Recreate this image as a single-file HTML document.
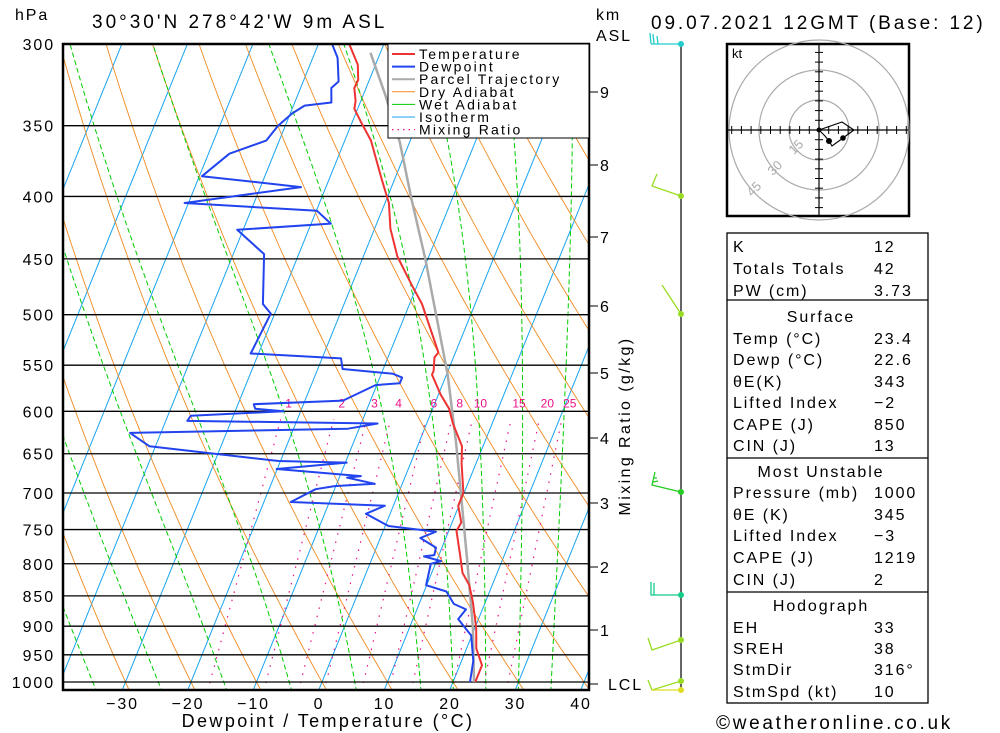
<!DOCTYPE html>
<html><head><meta charset="utf-8"><style>
html,body{margin:0;padding:0;background:#fff;}
svg{display:block;font-family:"Liberation Sans",sans-serif;}
.t{font-size:16px;letter-spacing:1.9px;fill:#000;}
</style></head><body>
<svg id="c" width="1000" height="733" viewBox="0 0 1000 733" xmlns="http://www.w3.org/2000/svg">
<defs><clipPath id="pc"><rect x="63" y="44" width="526" height="646"/></clipPath></defs>
<g id="grid" clip-path="url(#pc)"></g>
<g id="series" clip-path="url(#pc)"></g>
<rect x="63" y="44" width="526" height="646" fill="none" stroke="#000" stroke-width="2.5"/>
<g id="axes"></g>
<text x="15" y="20" class="t">hPa</text>
<text x="92" y="28" style="font-size:19px;letter-spacing:3px">30°30'N 278°42'W 9m ASL</text>
<text x="596" y="20" class="t">km</text>
<text x="596" y="41" class="t">ASL</text>
<text x="651" y="29" style="font-size:19px;letter-spacing:2.9px">09.07.2021 12GMT (Base: 12)</text>
<text x="328" y="727" text-anchor="middle" style="font-size:18px;letter-spacing:2.4px">Dewpoint / Temperature (°C)</text>
<text transform="translate(630,426) rotate(-90)" text-anchor="middle" class="t" style="letter-spacing:2.4px">Mixing Ratio (g/kg)</text>
<g>
<rect x="388" y="44" width="201" height="94" fill="#fff" stroke="#000" stroke-width="1"/>
<g id="legend"></g>
</g>
<g id="wind"></g>
<g id="hodo"></g>
<g id="table"></g>
<text x="716" y="729" style="font-size:19px;letter-spacing:2.7px">©weatheronline.co.uk</text>
</svg>
<script>
var tempP=[300,312,321,326,334,339,347,360,387,405,425,448,473,490,537,542,556,560,581,597,614,641,662,700,717,740,752,788,814,833,860,903,939,969,1000];
var tempT=[-35.3,-32.7,-31.7,-31.8,-30.8,-30.5,-28.8,-26.0,-22.0,-19.4,-17.6,-14.8,-10.8,-8.1,-2.6,-2.9,-2.2,-2.2,0.3,2.5,4.0,6.8,7.8,9.9,9.9,11.4,11.2,13.3,14.7,16.5,18.1,20.2,21.5,23.4,23.4];
var dewP=[300,308,322,326,335,337,342,350,360,369,385,393,405,411,421,426,446,490,499,538,543,554,559,563,569,571,588,592,597,600,605,611,614,620,625,641,659,661,669,678,680,688,691,695,712,717,728,745,753,762,776,787,789,796,800,833,843,863,872,888,916,961,1000];
var dewT=[-37.9,-36.2,-34.6,-35.3,-34.4,-38.3,-39.7,-41.1,-42.0,-46.8,-49.6,-33.8,-50.6,-29.9,-27.0,-40.9,-35.3,-32.4,-30.6,-31.2,-17.1,-16.2,-8.2,-6.6,-6.6,-10.2,-14.2,-27.6,-27.1,-22.6,-36.5,-36.7,-7.5,-11.7,-44.7,-40.9,-20.3,-9.8,-20.1,-6.8,-8.8,-4.2,-10.2,-12.9,-15.9,-1.3,-3.7,0.5,8.1,6.1,9.1,9.3,7.8,10.7,9.3,9.9,13.4,15.3,17.5,16.9,19.9,21.8,22.6];
var parcelP=[1000,903,800,712,637,560,502,450,402,361,331,305];
var parcelT=[23.2,19.7,14.9,10.2,5.7,0.2,-5.1,-10.4,-16.2,-21.5,-26.5,-31.5];
var pLevels=[300,350,400,450,500,550,600,650,700,750,800,850,900,950,1000];
var tTicks=[-30,-20,-10,0,10,20,30,40];
var kmLabels=[1,2,3,4,5,6,7,8,9];
var kmY=[630,567,503,438,373,306,237,165,92];
var mixW=[1,2,3,4,6,8,10,15,20,25];
var wetT=[-35,-25,-15,-5,5,15,20,25,30,35];

var NS="http://www.w3.org/2000/svg";
function Y(p){return 44+Math.log(p/300)/Math.log(1000/300)*638;}
function X(T,p){return 322+6.55*T+0.405*(682-Y(p));}
function mk(tag,attrs,parent){var e=document.createElementNS(NS,tag);for(var k in attrs)e.setAttribute(k,attrs[k]);parent.appendChild(e);return e;}
var grid=document.getElementById('grid'),series=document.getElementById('series'),axes=document.getElementById('axes');
for(var T=-120;T<=40;T+=10){
  var l=mk('line',{x1:X(T,1050),y1:Y(1050),x2:X(T,290),y2:Y(290),stroke:'#18a4f0','stroke-width':1},grid);
  
  
}
for(var th=-30;th<=200;th+=10){
  var pts=[];for(var p=1050;p>=290;p-=10){var t=(th+273.15)*Math.pow(p/1000,0.2857)-273.15;pts.push(X(t,p).toFixed(1)+','+Y(p).toFixed(1));}
  var e=mk('polyline',{points:pts.join(' '),fill:'none',stroke:'#f08a20','stroke-width':0.9},grid);
  
  
}
function es(tc){return 6.112*Math.exp(17.67*tc/(tc+243.5));}
function moist(t0){
  var Tk=t0+273.15;var arr=[];
  var Rd=287,cp=1004,Lv=2.5e6,eps=0.622;
  function dTdp(Tk,p){var e=es(Tk-273.15);var rs=eps*e/(p-e);return (Rd*Tk+Lv*rs)/(p*(cp+Lv*Lv*rs*eps/(Rd*Tk*Tk)));}
  var t=Tk;for(var q=1000;q<1050;q+=5){t+=dTdp(t,q)*5;}
  arr.push([1050,t]);
  t=Tk;for(var q=1000;q>=290;q-=5){arr.push([q,t]);t-=dTdp(t,q)*5;}
  return arr.map(function(a){return X(a[1]-273.15,a[0]).toFixed(1)+','+Y(a[0]).toFixed(1);}).join(' ');}
wetT.forEach(function(t0){
  var e=mk('polyline',{points:moist(t0),fill:'none',stroke:'#00cc00','stroke-width':1,'stroke-dasharray':'5,3'},grid);
  
  
});
function tdFromW(w,p){var e=w*p/(622+w);var a=Math.log(e/6.112);return 243.5*a/(17.67-a);}
mixW.forEach(function(w){
  var e=mk('line',{x1:X(tdFromW(w,1050),1050),y1:Y(1050),x2:X(tdFromW(w,600),600),y2:Y(600)+8,stroke:'#ee1188','stroke-width':1.2,'stroke-dasharray':'1.5,7'},grid);
  
  
  var tx=mk('text',{x:X(tdFromW(w,600),600)+8,y:Y(600)-4,'text-anchor':'middle','font-size':12,fill:'#ee1188'},series);
  tx.textContent=w;
  
  
});
pLevels.forEach(function(p){
  var e=mk('line',{x1:63,x2:589,y1:Y(p),y2:Y(p),stroke:'#000','stroke-width':1.3},grid);
  
  
  var tx=mk('text',{x:55,y:Y(p)+6,'text-anchor':'end',class:'t'},axes);
  tx.textContent=p;
  
  
});
tTicks.forEach(function(t){
  var tx=mk('text',{x:X(t,1000)-3,y:709,'text-anchor':'middle',class:'t'},axes);
  tx.textContent=(t<0?'\u2212'+(-t):t);
  
  
});
kmLabels.forEach(function(k,i){
  var l=mk('line',{x1:589,x2:598,y1:kmY[i],y2:kmY[i],stroke:'#000','stroke-width':1},axes);
  
  
  var tx=mk('text',{x:600,y:kmY[i]+6,class:'t'},axes);
  tx.textContent=k;
  
  
});
var lcl=mk('line',{x1:589,x2:598,y1:684,y2:684,stroke:'#000'},axes);


var lt=mk('text',{x:608,y:690,class:'t'},axes);lt.textContent='LCL';


function line(P,T,color,w,name){
  var pts=P.map(function(p,i){return X(T[i],p).toFixed(1)+','+Y(p).toFixed(1);}).join(' ');
  var e=mk('polyline',{points:pts,fill:'none',stroke:color,'stroke-width':w,'stroke-linejoin':'round'},series);
  
  
}
line(parcelP,parcelT,'#aaaaaa',2.5,'parcel-trajectory-line');
line(dewP,dewT,'#2244ee',2,'dewpoint-line');
line(tempP,tempT,'#ee3333',2,'temperature-line');
var leg=document.getElementById('legend');
var legItems=[['Temperature','#ee3333',2,''],['Dewpoint','#2244ee',2,''],['Parcel Trajectory','#aaaaaa',2,''],['Dry Adiabat','#f08a20',1,''],['Wet Adiabat','#00cc00',1,''],['Isotherm','#18a4f0',1,''],['Mixing Ratio','#ee1188',1.3,'1.5,4']];
legItems.forEach(function(it,i){
  var y=54+i*12.6;
  var l=mk('line',{x1:392,x2:415,y1:y,y2:y,stroke:it[1],'stroke-width':it[2]},leg);
  if(it[3])l.setAttribute('stroke-dasharray',it[3]);
  
  
  var tx=mk('text',{x:419,y:y+5,'font-size':14,'letter-spacing':'2.2px'},leg);
  tx.textContent=it[0];
  
  
});
var wind=document.getElementById('wind');
mk('line',{x1:681,x2:681,y1:44,y2:690,stroke:'#000','stroke-width':1.2},wind);
var barbs=[[44,'#22cccc','M681,44 L651,44 M651,44 L650,33 M654,44 L653,34 M658,44 L657,36'],
[196,'#99dd22','M681,196 L652,186 L657,174'],
[314,'#99dd22','M681,314 L662,285'],
[492,'#22cc22','M681,492 L652,485 L655,472 M653,482 L658,481 M653,478 L657,478'],
[595,'#11cc88','M681,595 L651,595 L651,582 M654,595 L654,583'],
[640,'#99dd22','M681,640 L652,650 L648,638'],
[681,'#99dd22','M681,681 L652,690 L648,680'],
[690,'#dddd22','M681,690 L652,690']];
barbs.forEach(function(b){
  var pth=mk('path',{d:b[2],stroke:b[1],fill:'none','stroke-width':1.3},wind);
  
  
  var d=mk('circle',{cx:681,cy:b[0],r:3,fill:b[1]},wind);
  
  
});
var h=document.getElementById('hodo');var cx=819,cy=130;
mk('rect',{x:727,y:44,width:182,height:172,fill:'#fff',stroke:'#000','stroke-width':2.5},h);
[30,60,90].forEach(function(r){mk('circle',{cx:cx,cy:cy,r:r,fill:'none',stroke:'#aaa','stroke-width':1.2},h);});
mk('line',{x1:728,x2:908,y1:cy,y2:cy,stroke:'#000','stroke-width':1.2},h);
mk('line',{x1:cx,x2:cx,y1:45,y2:215,stroke:'#000','stroke-width':1.2},h);
for(var k=-9;k<=9;k++){if(!k)continue;var d=k*9.7;
  mk('line',{x1:cx+d,x2:cx+d,y1:cy-4,y2:cy+4,stroke:'#000'},h);
  if(Math.abs(d)<85)mk('line',{x1:cx-4,x2:cx+4,y1:cy+d,y2:cy+d,stroke:'#000'},h);}
[['15',799,150],['30',778,171],['45',757,192]].forEach(function(a){
  var t=mk('text',{x:a[1],y:a[2],'font-size':13,fill:'#aaa',transform:'rotate(-45 '+a[1]+' '+a[2]+')','text-anchor':'middle'},h);t.textContent=a[0];});
var kt=mk('text',{x:732,y:58,'font-size':13},h);kt.textContent='kt';
mk('polyline',{points:'819,130 842,122 854,130 843,138 832,146 829,141 825,136 819,130',fill:'none',stroke:'#000','stroke-width':1.1},h);
mk('circle',{cx:819,cy:130,r:2.5,fill:'#000'},h);
mk('circle',{cx:843,cy:138,r:2.8,fill:'#000'},h);
mk('circle',{cx:829,cy:141,r:3,fill:'#000'},h);
var tb=document.getElementById('table');
mk('rect',{x:727,y:233,width:201,height:470,fill:'none',stroke:'#000','stroke-width':1.3},tb);
[300,458,592].forEach(function(y){mk('line',{x1:727,x2:928,y1:y,y2:y,stroke:'#000','stroke-width':1.3},tb);});
var rows=[['K','12',246],['Totals Totals','42',268],['PW (cm)','3.73',290],
['#Surface','',316],['Temp (°C)','23.4',338],['Dewp (°C)','22.6',359],['θE(K)','343',381],['Lifted Index','\u22122',402],['CAPE (J)','850',424],['CIN (J)','13',445],
['#Most Unstable','',471],['Pressure (mb)','1000',492],['θE (K)','345',514],['Lifted Index','\u22123',535],['CAPE (J)','1219',557],['CIN (J)','2',579],
['#Hodograph','',605],['EH','33',627],['SREH','38',648],['StmDir','316°',669],['StmSpd (kt)','10',691]];
rows.forEach(function(r){
  var t;
  if(r[0][0]=='#'){t=mk('text',{x:821,y:r[2]+6,'text-anchor':'middle',class:'t'},tb);t.textContent=r[0].slice(1);
    
    
    return;}
  t=mk('text',{x:733,y:r[2]+6,class:'t'},tb);t.textContent=r[0];
  
  
  var v=mk('text',{x:874,y:r[2]+6,class:'t'},tb);v.textContent=r[1];
  
  
});
</script>
</body></html>
